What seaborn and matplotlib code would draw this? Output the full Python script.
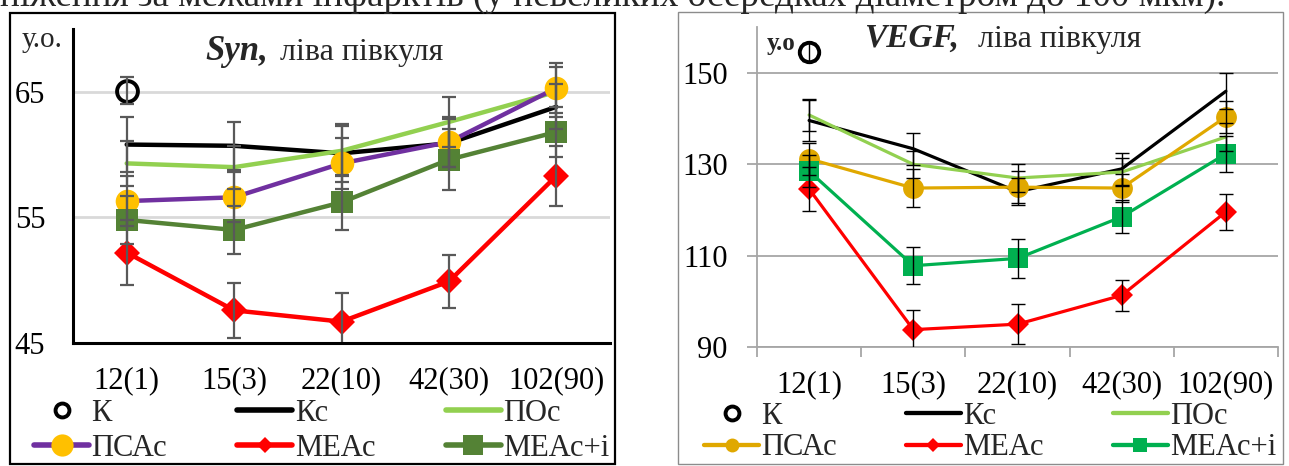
import numpy as np
import pandas as pd
import matplotlib
matplotlib.use("Agg")
import matplotlib.pyplot as plt
from matplotlib.lines import Line2D
from matplotlib.patches import Rectangle
import seaborn as sns

# ---------------- data ----------------
periods = ["12(1)", "15(3)", "22(10)", "42(30)", "102(90)"]
series_names = ["Кс", "ПОс", "ПСАс", "МЕАс", "МЕАс+i"]

# Syn, left hemisphere
syn_k = [65.1]
syn_k_err = [1.1]
syn_kc = [60.8, 60.7, 60.1, 60.9, 63.8]
syn_kc_err = [2.2, 1.9, 2.3, 1.9, 1.8]
syn_po = [59.3, 59.0, 60.3, 62.6, 65.0]
syn_po_err = [1.8, 1.7, 2.0, 2.0, 2.0]
syn_psa = [56.3, 56.6, 59.3, 61.0, 65.3]
syn_psa_err = [2.0, 2.0, 2.0, 2.0, 2.0]
syn_mea = [52.2, 47.6, 46.7, 49.9, 58.3]
syn_mea_err = [2.6, 2.2, 2.3, 2.1, 2.4]
syn_meai = [54.8, 54.0, 56.2, 59.6, 61.8]
syn_meai_err = [1.9, 1.9, 2.2, 2.4, 2.0]

# VEGF, left hemisphere
vegf_k = [154.6]
vegf_k_err = [2.0]
vegf_kc = [139.6, 133.4, 124.0, 129.0, 146.0]
vegf_kc_err = [4.4, 3.5, 3.0, 3.5, 3.9]
vegf_po = [140.8, 130.0, 127.0, 128.3, 136.0]
vegf_po_err = [3.5, 3.0, 3.0, 3.0, 3.0]
vegf_psa = [131.2, 124.8, 125.0, 124.8, 140.4]
vegf_psa_err = [3.5, 4.1, 3.5, 3.0, 3.5]
vegf_mea = [124.6, 93.8, 95.0, 101.3, 119.6]
vegf_mea_err = [4.8, 4.4, 4.4, 3.4, 4.0]
vegf_meai = [128.5, 107.8, 109.4, 118.5, 132.3]
vegf_meai_err = [3.5, 4.0, 4.3, 3.6, 4.0]

syn_ticks = [45, 55, 65]
vegf_ticks = [90, 110, 130, 150]

top_text = "ніження за межами інфарктів (у невеликих осередках діаметром до 100 мкм)."

# ---------------- setup ----------------
sns.set_theme(style="white")
plt.rcParams["font.family"] = ["Liberation Serif", "DejaVu Serif"]

W, H = 1289, 466
fig = plt.figure(figsize=(W / 100, H / 100), dpi=100)


def fx(x):
    return x / W


def fy(y):
    return 1 - y / H


def make_df(values, errs):
    n = len(values)
    return pd.DataFrame({"pos": np.arange(n), "period": periods[:n],
                         "value": values, "err": errs})


def draw_panel(ax, data, styles, lw, ecolor, elw, capsize):
    for name, (vals, errs) in data.items():
        st = styles[name]
        df = make_df(vals, errs)
        sns.lineplot(data=df, x="pos", y="value", ax=ax, sort=False,
                     color=st["line"], lw=(0 if name == "К" else st.get("lw", lw)),
                     marker=st.get("marker"), ms=st.get("ms", 0),
                     markerfacecolor=st.get("mfc", st["line"]),
                     markeredgecolor=st.get("mec", st.get("mfc", st["line"])),
                     markeredgewidth=st.get("mew", 0),
                     zorder=st["z"], legend=False, errorbar=None)
        ax.errorbar(df["pos"], df["value"], yerr=df["err"], fmt="none",
                    ecolor=ecolor, elinewidth=elw, capsize=capsize,
                    capthick=elw, zorder=20)


# ---------------- left panel: Syn ----------------
ax1 = fig.add_axes([fx(73), fy(343), fx(610) - fx(73), fy(29) - fy(343)])
styles1 = {
    "К": dict(line="black", marker="o", ms=15, mfc="none", mec="black", mew=2.8, z=5,
              lms=10),
    "Кс": dict(line="black", z=6),
    "ПОс": dict(line="#92d050", z=7),
    "ПСАс": dict(line="#7030a0", marker="o", ms=17, mfc="#ffc000", mec="#ffc000", z=8,
                lms=16),
    "МЕАс": dict(line="#ff0000", marker="D", ms=13, mfc="#ff0000", z=9, lms=8),
    "МЕАс+i": dict(line="#548235", marker="s", ms=16, mfc="#548235", z=10, lms=14),
}
data1 = {
    "К": (syn_k, syn_k_err),
    "Кс": (syn_kc, syn_kc_err),
    "ПОс": (syn_po, syn_po_err),
    "ПСАс": (syn_psa, syn_psa_err),
    "МЕАс": (syn_mea, syn_mea_err),
    "МЕАс+i": (syn_meai, syn_meai_err),
}
draw_panel(ax1, data1, styles1, lw=3.2, ecolor="#595959", elw=1.6, capsize=5)
ax1.set_xlim(-0.5, len(periods) - 0.5)
ax1.set_ylim(45, 70)
ax1.set_yticks(syn_ticks)
ax1.set_xticks(range(len(periods)))
ax1.set_xticklabels(periods)
ax1.set_xlabel("")
ax1.set_ylabel("")
ax1.grid(axis="y", color="#d9d9d9", lw=2)
ax1.grid(axis="x", visible=False)
for s in ["top", "right"]:
    ax1.spines[s].set_visible(False)
for s in ["left", "bottom"]:
    ax1.spines[s].set_color("black")
    ax1.spines[s].set_linewidth(2.2)
    ax1.spines[s].set_zorder(30)
ax1.tick_params(axis="y", length=0, pad=20, labelsize=22, colors="black")
ax1.tick_params(axis="x", length=0, pad=17, labelsize=22, colors="black")
ax1.set_facecolor("none")

fig.text(fx(22), fy(47), "у.о.", fontsize=21, va="baseline", ha="left")
fig.text(fx(205), fy(60), "Syn,", fontsize=25, fontweight="bold",
         fontstyle="italic", va="baseline", ha="left")
fig.text(fx(280), fy(60), "ліва півкуля", fontsize=23, va="baseline", ha="left")

# ---------------- right panel: VEGF ----------------
ax2 = fig.add_axes([fx(757), fy(347), fx(1278) - fx(757), fy(27.3) - fy(347)])
styles2 = {
    "К": dict(line="black", marker="o", ms=14, mfc="none", mec="black", mew=2.8, z=5,
              lms=10),
    "Кс": dict(line="black", z=6),
    "ПОс": dict(line="#92d050", z=7),
    "ПСАс": dict(line="#e0a800", marker="o", ms=15, mfc="#e0a800", z=8, lms=10),
    "МЕАс": dict(line="#ff0000", marker="D", ms=11, mfc="#ff0000", z=9, lms=7),
    "МЕАс+i": dict(line="#00b050", marker="s", ms=14, mfc="#00b050", z=10, lms=10),
}
data2 = {
    "К": (vegf_k, vegf_k_err),
    "Кс": (vegf_kc, vegf_kc_err),
    "ПОс": (vegf_po, vegf_po_err),
    "ПСАс": (vegf_psa, vegf_psa_err),
    "МЕАс": (vegf_mea, vegf_mea_err),
    "МЕАс+i": (vegf_meai, vegf_meai_err),
}
draw_panel(ax2, data2, styles2, lw=2.3, ecolor="black", elw=1.0, capsize=5)
ax2.set_xlim(-0.5, len(periods) - 0.5)
ax2.set_ylim(90, 160)
ax2.set_yticks(vegf_ticks)
ax2.set_xticks(range(len(periods)))
ax2.set_xticklabels(periods)
ax2.set_xticks(np.arange(len(periods) + 1) - 0.5, minor=True)
ax2.set_xlabel("")
ax2.set_ylabel("")
ax2.grid(axis="y", color="#a6a6a6", lw=1.3)
ax2.grid(axis="x", visible=False)
for s in ["top", "right"]:
    ax2.spines[s].set_visible(False)
for s in ["left", "bottom"]:
    ax2.spines[s].set_color("#a6a6a6")
    ax2.spines[s].set_linewidth(1.3)
ax2.tick_params(axis="y", which="major", left=True, length=7, width=1.3,
                color="#a6a6a6", pad=14, labelsize=22, labelcolor="black")
ax2.tick_params(axis="x", which="major", bottom=False, length=0, pad=17,
                labelsize=22, labelcolor="black")
ax2.tick_params(axis="x", which="minor", bottom=True, length=7, width=1.3,
                color="#a6a6a6")
ax2.set_facecolor("none")

fig.text(fx(767), fy(50), "у.о", fontsize=18, fontweight="bold",
         va="baseline", ha="left", zorder=1)
fig.text(fx(864), fy(47), "VEGF,", fontsize=24, fontweight="bold",
         fontstyle="italic", va="baseline", ha="left")
fig.text(fx(978), fy(47), "ліва півкуля", fontsize=23, va="baseline", ha="left")


# ---------------- legends ----------------
def legend_handles(styles, lw):
    hs = {}
    for name, st in styles.items():
        if name == "К":
            hs[name] = Line2D([], [], lw=0, marker="o", ms=st["lms"], mfc="none",
                              mec="black", mew=2.8)
        else:
            hs[name] = Line2D([], [], color=st["line"], lw=lw + 0.8,
                              marker=st.get("marker"),
                              ms=st.get("lms", 0),
                              mfc=st.get("mfc", st["line"]),
                              mec=st.get("mec", st.get("mfc", st["line"])),
                              mew=0)
    order = ["К", "ПСАс", "Кс", "МЕАс", "ПОс", "МЕАс+i"]
    return [hs[o] for o in order], order


h1, l1 = legend_handles(styles1, 3.2)
fig.legend(h1, l1, loc="upper left", bbox_to_anchor=(fx(34), fy(399)),
           ncol=3, frameon=False, fontsize=22, handlelength=1.8,
           handletextpad=0.08, columnspacing=2.3, labelspacing=0.2,
           borderpad=0, borderaxespad=0)

h2, l2 = legend_handles(styles2, 2.3)
fig.legend(h2, l2, loc="upper left", bbox_to_anchor=(fx(704), fy(402)),
           ncol=3, frameon=False, fontsize=22, handlelength=1.8,
           handletextpad=0.08, columnspacing=2.25, labelspacing=0.08,
           borderpad=0, borderaxespad=0)

# ---------------- frames ----------------
fig.add_artist(Rectangle((fx(10), fy(464)), fx(615) - fx(10), fy(13) - fy(464),
                         transform=fig.transFigure, fill=False,
                         edgecolor="black", lw=1.6, zorder=0))
fig.add_artist(Rectangle((fx(678), fy(464)), fx(1283) - fx(678), fy(12) - fy(464),
                         transform=fig.transFigure, fill=False,
                         edgecolor="#8c8c8c", lw=1.0, zorder=0))

# ---------------- clipped document text at the top ----------------
t = fig.text(0, fy(6), top_text, fontsize=26, va="baseline", ha="left")
fig.canvas.draw()
w = t.get_window_extent(fig.canvas.get_renderer()).width
t.set_fontsize(26 * 1225 / w)

fig.savefig("out.png", dpi=100)
